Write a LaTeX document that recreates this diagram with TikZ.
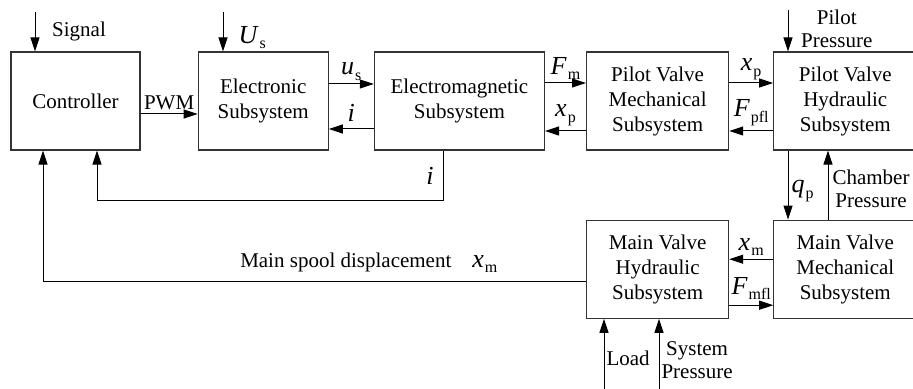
\documentclass[tikz,border=0pt]{standalone}
\usepackage{fontspec}
\setmainfont{Liberation Serif}
\usepackage{tikz}
\usetikzlibrary{arrows.meta, positioning}
\newcommand{\vsub}[2]{\textit{#1}\kern0.5pt\raisebox{-0.45ex}{\fontsize{8}{8}\selectfont #2}}

\begin{document}
\begin{tikzpicture}[
    x=0.5pt, y=-0.5pt,
    block/.style={draw, minimum height=49pt, inner sep=0pt, align=center,
                  font=\fontsize{10.5}{12.5}\selectfont, line width=0.6pt, draw=black!80},
    arrow/.style={-{Triangle[length=7pt, width=4.5pt]}, line width=0.5pt},
    lbl/.style={font=\fontsize{10.5}{11.5}\selectfont, align=center},
    var/.style={font=\fontsize{13}{14}\selectfont, inner sep=1.5pt}
  ]
    \useasboundingbox (0,0) rectangle (913,389);

    % Upper chain
    \node[block, minimum width=64.5pt] (ctrl) at (75.5,101) {Controller};
    \node[block, minimum width=65pt, right=28.5pt of ctrl] (elec) {Electronic\\Subsystem};
    \node[block, minimum width=85pt, right=22.5pt of elec] (emag) {Electromagnetic\\Subsystem};
    \node[block, minimum width=71pt, right=20.5pt of emag] (pvmech) {Pilot Valve\\Mechanical\\Subsystem};
    \node[block, minimum width=71.5pt, right=22pt of pvmech] (pvhyd) {Pilot Valve\\Hydraulic\\Subsystem};

    % Main valve
    \node[block, minimum width=71pt, below=34.5pt of pvmech] (mvhyd) {Main Valve\\Hydraulic\\Subsystem};
    \node[block, minimum width=71.5pt, below=34.5pt of pvhyd] (mvmech) {Main Valve\\Mechanical\\Subsystem};

    % Free ends
    \coordinate (signal) at (35,12);
    \coordinate (supply) at (223,12);
    \coordinate (pilot) at (788,10);
    \coordinate (qflow) at (788,0);
    \coordinate (chamber) at (828,0);
    \coordinate (load) at (604,389);
    \coordinate (sys) at (659,389);
    \coordinate (ibend) at (443,201);
    \coordinate (ifb) at (97,201);
    \coordinate (xfb) at (43,0);

    % Inputs
    \draw[arrow] (signal) -- (signal |- ctrl.north)
      node[midway, right, lbl, xshift=5pt] {Signal};
    \draw[arrow] (supply) -- (supply |- elec.north)
      node[midway, right, var, xshift=6pt, yshift=-3pt] {\vsub{U}{s}};
    \draw[arrow] (pilot) -- (pilot |- pvhyd.north)
      node[midway, right, lbl, xshift=3pt, yshift=1pt] {Pilot\\Pressure};
    \draw[arrow] (load) -- (load |- mvhyd.south)
      node[midway, right, lbl, inner sep=1pt, yshift=-2pt] {Load};
    \draw[arrow] (sys) -- (sys |- mvhyd.south)
      node[midway, right, lbl, inner sep=1pt, yshift=-3pt] {System\\Pressure};

    % Forward and back signals
    \draw[arrow] ([yshift=-6.5pt]ctrl.east) -- ([yshift=-6.5pt]elec.west)
      node[midway, above, lbl, inner sep=2pt] {PWM};
    \draw[arrow] ([yshift=8.5pt]elec.east) -- ([yshift=8.5pt]emag.west)
      node[midway, above, var] {\vsub{u}{s}};
    \draw[arrow] ([yshift=-14pt]emag.west) -- ([yshift=-14pt]elec.east)
      node[midway, above, var, yshift=2pt] {\textit{i}};
    \draw[arrow] ([yshift=9pt]emag.east) -- ([yshift=9pt]pvmech.west)
      node[midway, above, var] {\vsub{F}{m}};
    \draw[arrow] ([yshift=-15pt]pvmech.west) -- ([yshift=-15pt]emag.east)
      node[midway, above, var, yshift=1pt] {\vsub{x}{p}};
    \draw[arrow] ([yshift=9pt]pvmech.east) -- ([yshift=9pt]pvhyd.west)
      node[midway, above, var] {\vsub{x}{p}};
    \draw[arrow] ([yshift=-15pt]pvhyd.west) -- ([yshift=-15pt]pvmech.east)
      node[midway, above, var, yshift=1pt] {\vsub{F}{pfl}};
    \draw[arrow] (qflow |- pvhyd.south) -- (qflow |- mvmech.north)
      node[midway, right, var, yshift=-3pt] {\vsub{q}{p}};
    \draw[arrow] (chamber |- mvmech.north) -- (chamber |- pvhyd.south)
      node[midway, right, lbl, inner sep=2pt, yshift=-2pt] {Chamber\\Pressure};
    \draw[arrow] ([yshift=5pt]mvmech.west) -- ([yshift=5pt]mvhyd.east)
      node[midway, above, var] {\vsub{x}{m}};
    \draw[arrow] ([yshift=-18pt]mvhyd.east) -- ([yshift=-18pt]mvmech.west)
      node[midway, above, var, yshift=1pt] {\vsub{F}{mfl}};

    % Feedback to controller
    \draw[arrow] (ibend |- emag.south) |- node[pos=0.25, left, var, xshift=-3pt] {\textit{i}}
      (ifb) -- (ifb |- ctrl.south);
    \draw[arrow] ([yshift=-6pt]mvhyd.west) -| (xfb |- ctrl.south)
      node[pos=0.2, above, inner sep=4pt] {\fontsize{10.5}{12}\selectfont Main spool displacement\quad\fontsize{13}{14}\selectfont\vsub{x}{m}};

  \end{tikzpicture}
\end{document}
